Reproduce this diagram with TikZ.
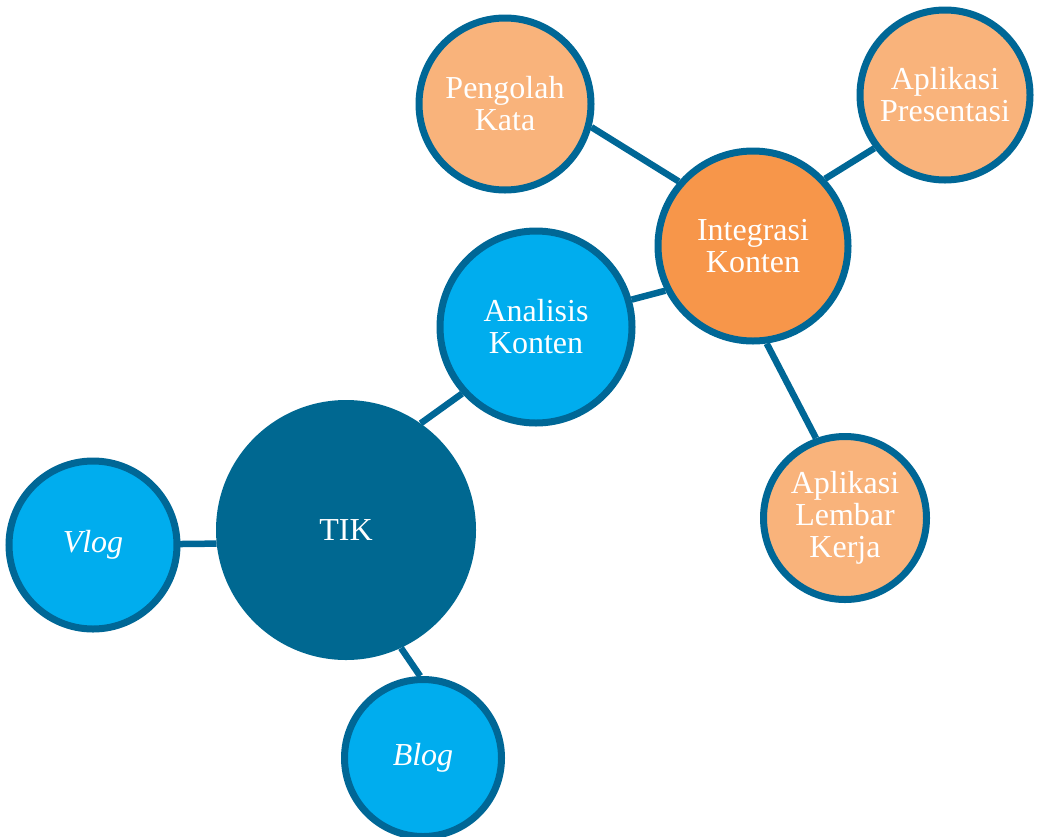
\documentclass[tikz,border=0pt]{standalone}
\usepackage{fontspec}
\setmainfont{Liberation Serif}
\usetikzlibrary{backgrounds}
\definecolor{dkblue}{HTML}{006891}
\definecolor{edgeblue}{HTML}{006796}
\definecolor{ltblue}{HTML}{00ADEE}
\definecolor{orng}{HTML}{F7964A}
\definecolor{ltorng}{HTML}{F9B37B}
\tikzset{
  bubble/.style={circle, draw=edgeblue, line width=7pt, text=white, align=center,
    font=\fontsize{32}{32}\selectfont, inner sep=0pt},
  bluebub/.style={bubble, fill=ltblue},
  orbub/.style={bubble, fill=orng},
  ltorbub/.style={bubble, fill=ltorng},
  link/.style={draw=edgeblue, line width=6.5pt}
}
\begin{document}
\begin{tikzpicture}[x=1pt,y=-1pt]
\useasboundingbox (0,0) rectangle (1038,836);
\node[circle, fill=dkblue, minimum size=260pt, inner sep=0pt, text=white,
  font=\fontsize{32}{32}\selectfont] (tik) at (346,530) {TIK};
\node[bluebub, minimum size=168pt] (vlog) at (93,545) {\itshape Vlog};
\node[bluebub, minimum size=157pt] (blog) at (423,758) {\itshape Blog};
\node[bluebub, minimum size=192pt] (ana) at (536,327) {Analisis\\Konten};
\node[orbub, minimum size=190pt] (int) at (753,246) {Integrasi\\Konten};
\node[ltorbub, minimum size=172pt] (pk) at (505,104) {Pengolah\\Kata};
\node[ltorbub, minimum size=170pt] (pres) at (945,95) {Aplikasi\\Presentasi};
\node[ltorbub, minimum size=163pt] (lk) at (845,518) {Aplikasi\\Lembar\\Kerja};
\begin{scope}[on background layer]
\draw[link] (vlog.center) -- (tik.186);
\draw[link] (tik.-65) -- (blog.92);
\draw[link] (tik.55) -- (ana.222);
\draw[link] (ana.16) -- (int.207);
\draw[link] (int.139) -- (pk.-15);
\draw[link] (int.43) -- (pres.217);
\draw[link] (int.-82) -- (lk.110);
\end{scope}
\end{tikzpicture}
\end{document}
